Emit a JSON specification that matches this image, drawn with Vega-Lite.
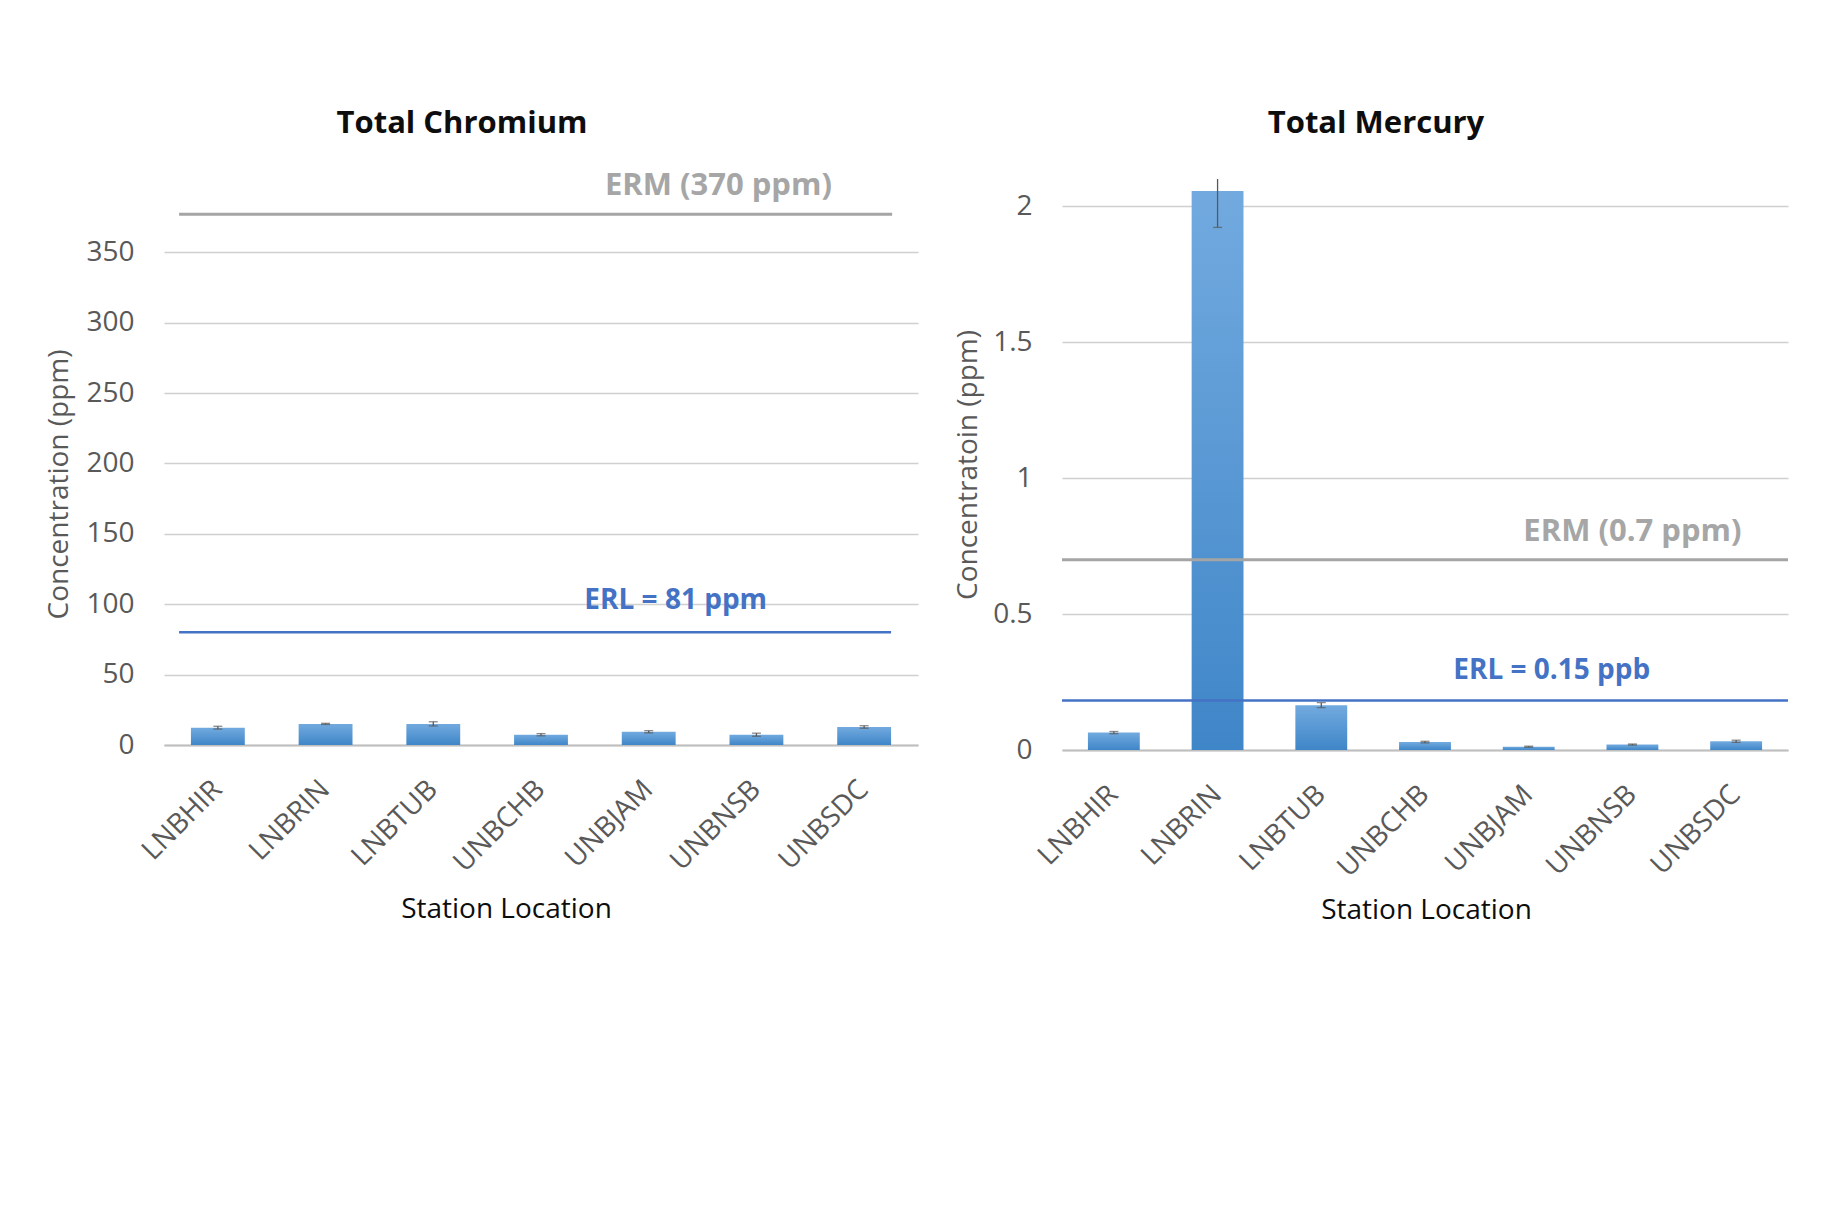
{
  "$schema": "https://vega.github.io/schema/vega-lite/v6.json",
  "background": "white",
  "padding": {"left": 45, "top": 107, "right": 0, "bottom": 0},
  "spacing": 36,
  "datasets": {
    "chromium": [
      {"station": "LNBHIR", "value": 12.3, "lo": 11.3, "hi": 13.3},
      {"station": "LNBRIN", "value": 15.0, "lo": 14.6, "hi": 15.4},
      {"station": "LNBTUB", "value": 15.0, "lo": 13.5, "hi": 16.5},
      {"station": "UNBCHB", "value": 7.3, "lo": 6.5, "hi": 8.1},
      {"station": "UNBJAM", "value": 9.4, "lo": 8.6, "hi": 10.2},
      {"station": "UNBNSB", "value": 7.3, "lo": 6.2, "hi": 8.4},
      {"station": "UNBSDC", "value": 12.8, "lo": 11.9, "hi": 13.7}
    ],
    "mercury": [
      {"station": "LNBHIR", "value": 0.064, "lo": 0.060, "hi": 0.068},
      {"station": "LNBRIN", "value": 2.056, "lo": 1.922, "hi": 2.19},
      {"station": "LNBTUB", "value": 0.165, "lo": 0.156, "hi": 0.174},
      {"station": "UNBCHB", "value": 0.029, "lo": 0.026, "hi": 0.032},
      {"station": "UNBJAM", "value": 0.012, "lo": 0.010, "hi": 0.014},
      {"station": "UNBNSB", "value": 0.020, "lo": 0.018, "hi": 0.022},
      {"station": "UNBSDC", "value": 0.032, "lo": 0.028, "hi": 0.036}
    ],
    "chromLines": [
      {"kind": "ERM", "label": "ERM (370 ppm)", "value": 377},
      {"kind": "ERL", "label": "ERL = 81 ppm", "value": 80}
    ],
    "mercLines": [
      {"kind": "ERM", "label": "ERM (0.7 ppm)", "value": 0.70},
      {"kind": "ERL", "label": "ERL = 0.15 ppb", "value": 0.182}
    ]
  },
  "config": {
    "font": "Open Sans",
    "view": {"stroke": null},
    "axisX": {
      "domainColor": "#bfbfbf", "domainWidth": 2, "ticks": false, "grid": false,
      "labelAngle": -45, "labelAlign": "right", "labelBaseline": "middle",
      "labelFont": "Open Sans", "labelFontSize": 28, "labelColor": "#595959", "labelPadding": 40,
      "titleFont": "Open Sans", "titleFontSize": 28, "titleColor": "#0d0d0d", "titleFontWeight": "normal", "titleBaseline": "middle"
    },
    "axisY": {
      "domain": false, "ticks": false, "grid": true, "gridColor": "#d0d0d0", "gridWidth": 1.3,
      "labelFont": "Open Sans", "labelFontSize": 28, "labelColor": "#595959", "labelPadding": 30,
      "titleFont": "Open Sans", "titleFontSize": 28, "titleColor": "#595959", "titleFontWeight": "normal", "titlePadding": 10
    }
  },
  "hconcat": [
    {
      "width": 754,
      "height": 566,
      "title": {"text": "Total Chromium", "fontSize": 31, "fontWeight": "bold", "font": "Open Sans", "color": "#0d0d0d", "anchor": "middle", "dx": -79, "offset": 6.5, "baseline": "alphabetic"},
      "layer": [
        {
          "data": {"name": "chromium"},
          "mark": {"type": "bar", "color": {"gradient": "linear", "x1": 0, "y1": 0, "x2": 0, "y2": 1, "stops": [{"offset": 0, "color": "#72aadf"}, {"offset": 1, "color": "#3f86c8"}]}},
          "encoding": {
            "x": {"field": "station", "type": "nominal", "sort": null, "scale": {"paddingInner": 0.5, "paddingOuter": 0.25},
                  "axis": {"title": "Station Location", "titleX": 342, "titleY": 164}},
            "y": {"field": "value", "type": "quantitative", "scale": {"domain": [0, 402], "nice": false},
                  "axis": {"title": "Concentration (ppm)", "values": [0, 50, 100, 150, 200, 250, 300, 350], "format": "d", "titleX": -91, "titleY": 305}}
          }
        },
        {
          "data": {"name": "chromium"},
          "mark": {"type": "rule", "color": "#595959", "strokeWidth": 1.3},
          "encoding": {
            "x": {"field": "station", "type": "nominal", "sort": null},
            "y": {"field": "lo", "type": "quantitative"},
            "y2": {"field": "hi"}
          }
        },
        {
          "data": {"name": "chromium"},
          "mark": {"type": "tick", "orient": "horizontal", "size": 9, "thickness": 1.3, "color": "#595959"},
          "encoding": {
            "x": {"field": "station", "type": "nominal", "sort": null},
            "y": {"field": "lo", "type": "quantitative"}
          }
        },
        {
          "data": {"name": "chromium"},
          "mark": {"type": "tick", "orient": "horizontal", "size": 9, "thickness": 1.3, "color": "#595959"},
          "encoding": {
            "x": {"field": "station", "type": "nominal", "sort": null},
            "y": {"field": "hi", "type": "quantitative"}
          }
        },
        {
          "data": {"name": "chromLines"},
          "transform": [{"filter": "datum.kind === 'ERM'"}],
          "mark": {"type": "rule", "color": "#a5a5a5", "strokeWidth": 3},
          "encoding": {
            "x": {"datum": "LNBHIR", "bandPosition": -0.22},
            "x2": {"datum": "UNBSDC", "bandPosition": 1.02},
            "y": {"field": "value", "type": "quantitative"}
          }
        },
        {
          "data": {"name": "chromLines"},
          "transform": [{"filter": "datum.kind === 'ERL'"}],
          "mark": {"type": "rule", "color": "#4472c4", "strokeWidth": 2.5},
          "encoding": {
            "x": {"datum": "LNBHIR", "bandPosition": -0.22},
            "x2": {"datum": "UNBSDC", "bandPosition": 1.0},
            "y": {"field": "value", "type": "quantitative"}
          }
        },
        {
          "data": {"name": "chromLines"},
          "transform": [{"filter": "datum.kind === 'ERM'"}],
          "mark": {"type": "text", "color": "#a6a6a6", "fontWeight": "bold", "fontSize": 31, "font": "Open Sans", "align": "center", "baseline": "middle", "dx": -38, "dy": -28},
          "encoding": {
            "x": {"datum": "UNBNSB"},
            "y": {"field": "value", "type": "quantitative"},
            "text": {"field": "label"}
          }
        },
        {
          "data": {"name": "chromLines"},
          "transform": [{"filter": "datum.kind === 'ERL'"}],
          "mark": {"type": "text", "color": "#4472c4", "fontWeight": "bold", "fontSize": 28, "font": "Open Sans", "align": "center", "baseline": "middle", "dx": 27, "dy": -31},
          "encoding": {
            "x": {"datum": "UNBJAM"},
            "y": {"field": "value", "type": "quantitative"},
            "text": {"field": "label"}
          }
        }
      ]
    },
    {
      "width": 726,
      "height": 571,
      "title": {"text": "Total Mercury", "fontSize": 31, "fontWeight": "bold", "font": "Open Sans", "color": "#0d0d0d", "anchor": "middle", "dx": -49, "offset": 15, "baseline": "alphabetic"},
      "layer": [
        {
          "data": {"name": "mercury"},
          "mark": {"type": "bar", "color": {"gradient": "linear", "x1": 0, "y1": 0, "x2": 0, "y2": 1, "stops": [{"offset": 0, "color": "#72aadf"}, {"offset": 1, "color": "#3f86c8"}]}},
          "encoding": {
            "x": {"field": "station", "type": "nominal", "sort": null, "scale": {"paddingInner": 0.5, "paddingOuter": 0.25},
                  "axis": {"title": "Station Location", "titleX": 364, "titleY": 160}},
            "y": {"field": "value", "type": "quantitative", "scale": {"domain": [0, 2.1], "nice": false},
                  "axis": {"title": "Concentratoin (ppm)", "values": [0, 0.5, 1, 1.5, 2], "format": "~g"}}
          }
        },
        {
          "data": {"name": "mercury"},
          "mark": {"type": "rule", "color": "#595959", "strokeWidth": 1.3, "clip": true},
          "encoding": {
            "x": {"field": "station", "type": "nominal", "sort": null},
            "y": {"field": "lo", "type": "quantitative"},
            "y2": {"field": "hi"}
          }
        },
        {
          "data": {"name": "mercury"},
          "mark": {"type": "tick", "orient": "horizontal", "size": 9, "thickness": 1.3, "color": "#595959", "clip": true},
          "encoding": {
            "x": {"field": "station", "type": "nominal", "sort": null},
            "y": {"field": "lo", "type": "quantitative"}
          }
        },
        {
          "data": {"name": "mercury"},
          "mark": {"type": "tick", "orient": "horizontal", "size": 9, "thickness": 1.3, "color": "#595959", "clip": true},
          "encoding": {
            "x": {"field": "station", "type": "nominal", "sort": null},
            "y": {"field": "hi", "type": "quantitative"}
          }
        },
        {
          "data": {"name": "mercLines"},
          "transform": [{"filter": "datum.kind === 'ERM'"}],
          "mark": {"type": "rule", "color": "#a5a5a5", "strokeWidth": 3},
          "encoding": {
            "y": {"field": "value", "type": "quantitative"}
          }
        },
        {
          "data": {"name": "mercLines"},
          "transform": [{"filter": "datum.kind === 'ERL'"}],
          "mark": {"type": "rule", "color": "#4472c4", "strokeWidth": 2.5},
          "encoding": {
            "y": {"field": "value", "type": "quantitative"}
          }
        },
        {
          "data": {"name": "mercLines"},
          "transform": [{"filter": "datum.kind === 'ERM'"}],
          "mark": {"type": "text", "color": "#a6a6a6", "fontWeight": "bold", "fontSize": 31, "font": "Open Sans", "align": "center", "baseline": "middle", "dx": 0, "dy": -28},
          "encoding": {
            "x": {"datum": "UNBNSB"},
            "y": {"field": "value", "type": "quantitative"},
            "text": {"field": "label"}
          }
        },
        {
          "data": {"name": "mercLines"},
          "transform": [{"filter": "datum.kind === 'ERL'"}],
          "mark": {"type": "text", "color": "#4472c4", "fontWeight": "bold", "fontSize": 28, "font": "Open Sans", "align": "center", "baseline": "middle", "dx": 23, "dy": -30},
          "encoding": {
            "x": {"datum": "UNBJAM"},
            "y": {"field": "value", "type": "quantitative"},
            "text": {"field": "label"}
          }
        }
      ]
    }
  ]
}
